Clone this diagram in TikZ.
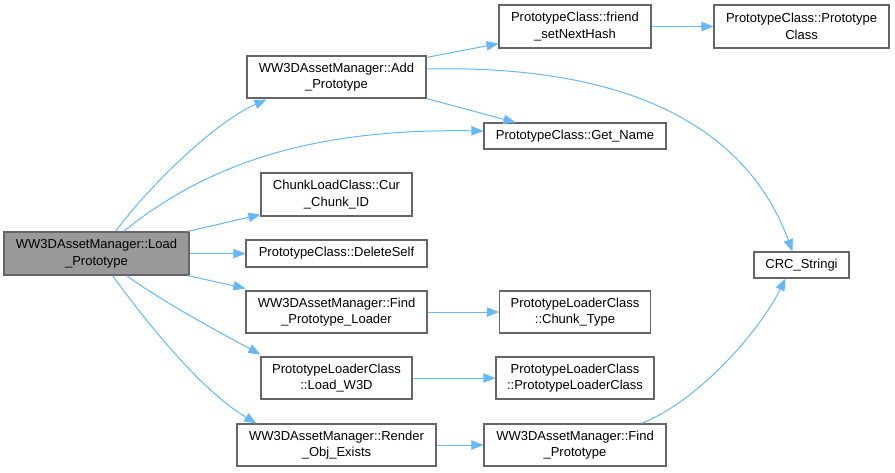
\documentclass[tikz,border=0pt]{standalone}
\usepackage{fontspec}
\setmainfont{Liberation Sans}
\usetikzlibrary{arrows.meta,calc}
\definecolor{edgec}{HTML}{63B8FF}
\definecolor{bordc}{HTML}{666666}
\definecolor{rootc}{HTML}{999999}
\begin{document}
\begin{tikzpicture}[x=0.75pt,y=-0.75pt,
  box/.style={draw=bordc,line width=0.9pt,fill=white,inner sep=0pt,align=center,
    font=\fontsize{9.75pt}{12.5pt}\selectfont},
  root/.style={box,fill=rootc},
  conn/.style={draw=edgec,line width=0.75pt,-{Triangle[length=9pt,width=7pt]}}]
\useasboundingbox (0,0) rectangle (895,472);
\node[root,minimum width=138.75pt,minimum height=32.25pt] (load) at (96.5,253.5) {WW3DAssetManager::Load\\\_Prototype};
\node[box,minimum width=134.25pt,minimum height=31.5pt] (add) at (336.5,77) {WW3DAssetManager::Add\\\_Prototype};
\node[box,minimum width=114pt,minimum height=32.25pt] (friend) at (575,26.5) {PrototypeClass::friend\\\_setNextHash};
\node[box,minimum width=131.25pt,minimum height=32.25pt] (pc) at (801.5,26.5) {PrototypeClass::Prototype\\Class};
\node[box,minimum width=136.5pt,minimum height=19.5pt] (getname) at (575,136) {PrototypeClass::Get\_Name};
\node[box,minimum width=71.25pt,minimum height=19.5pt] (crc) at (801.5,265) {CRC\_Stringi};
\node[box,minimum width=113.25pt,minimum height=32.25pt] (cur) at (336.5,194.5) {ChunkLoadClass::Cur\\\_Chunk\_ID};
\node[box,minimum width=135.75pt,minimum height=20.25pt] (del) at (336.5,253.5) {PrototypeClass::DeleteSelf};
\node[box,minimum width=135.75pt,minimum height=31.5pt] (fpl) at (336.5,312) {WW3DAssetManager::Find\\\_Prototype\_Loader};
\node[box,minimum width=113.25pt,minimum height=31.5pt] (chunk) at (575,312) {PrototypeLoaderClass\\::Chunk\_Type};
\node[box,minimum width=113.25pt,minimum height=31.5pt] (lw3d) at (336.5,378) {PrototypeLoaderClass\\::Load\_W3D};
\node[box,minimum width=118.5pt,minimum height=31.5pt] (plc) at (575,378) {PrototypeLoaderClass\\::PrototypeLoaderClass};
\node[box,minimum width=149.25pt,minimum height=31.5pt] (render) at (336.5,445) {WW3DAssetManager::Render\\\_Obj\_Exists};
\node[box,minimum width=136.5pt,minimum height=31.5pt] (fp) at (575,445) {WW3DAssetManager::Find\\\_Prototype};
% edges from root
\draw[conn] ($(load.north)+(19,0)$) .. controls (150,185) and (215,122) .. ($(add.south west)+(20,1)$);
\draw[conn] ($(load.north)+(27,0)$) .. controls (200,170) and (300,128) .. ($(getname.west)+(0,-5)$);
\draw[conn] ($(load.north east)+(-2,0)$) -- ($(cur.south west)+(0,-2)$);
\draw[conn] (load.east) -- (del.west);
\draw[conn] ($(load.south east)+(-2,0)$) -- ($(fpl.north west)+(0,-2)$);
\draw[conn] ($(load.south)+(30,0)$) .. controls (160,300) and (215,330) .. ($(lw3d.north west)+(0,-2)$);
\draw[conn] ($(load.south)+(16,0)$) .. controls (145,320) and (200,390) .. ($(render.north west)+(20,0)$);
% other edges
\draw[conn] ($(add.north east)+(0,2)$) -- ($(friend.south west)+(0,-5)$);
\draw[conn] ($(add.south east)+(0,0)$) -- ($(getname.north west)+(32,0)$);
\draw[conn] ($(add.east)+(0,-8)$) .. controls (600,65) and (740,110) .. ($(crc.north)+(-9,0)$);
\draw[conn] (friend.east) -- (pc.west);
\draw[conn] (fpl.east) -- (chunk.west);
\draw[conn] (lw3d.east) -- (plc.west);
\draw[conn] (render.east) -- (fp.west);
\draw[conn] ($(fp.north east)+(-25,0)$) .. controls (700,400) and (760,330) .. ($(crc.south)+(-16,0)$);
\end{tikzpicture}
\end{document}
